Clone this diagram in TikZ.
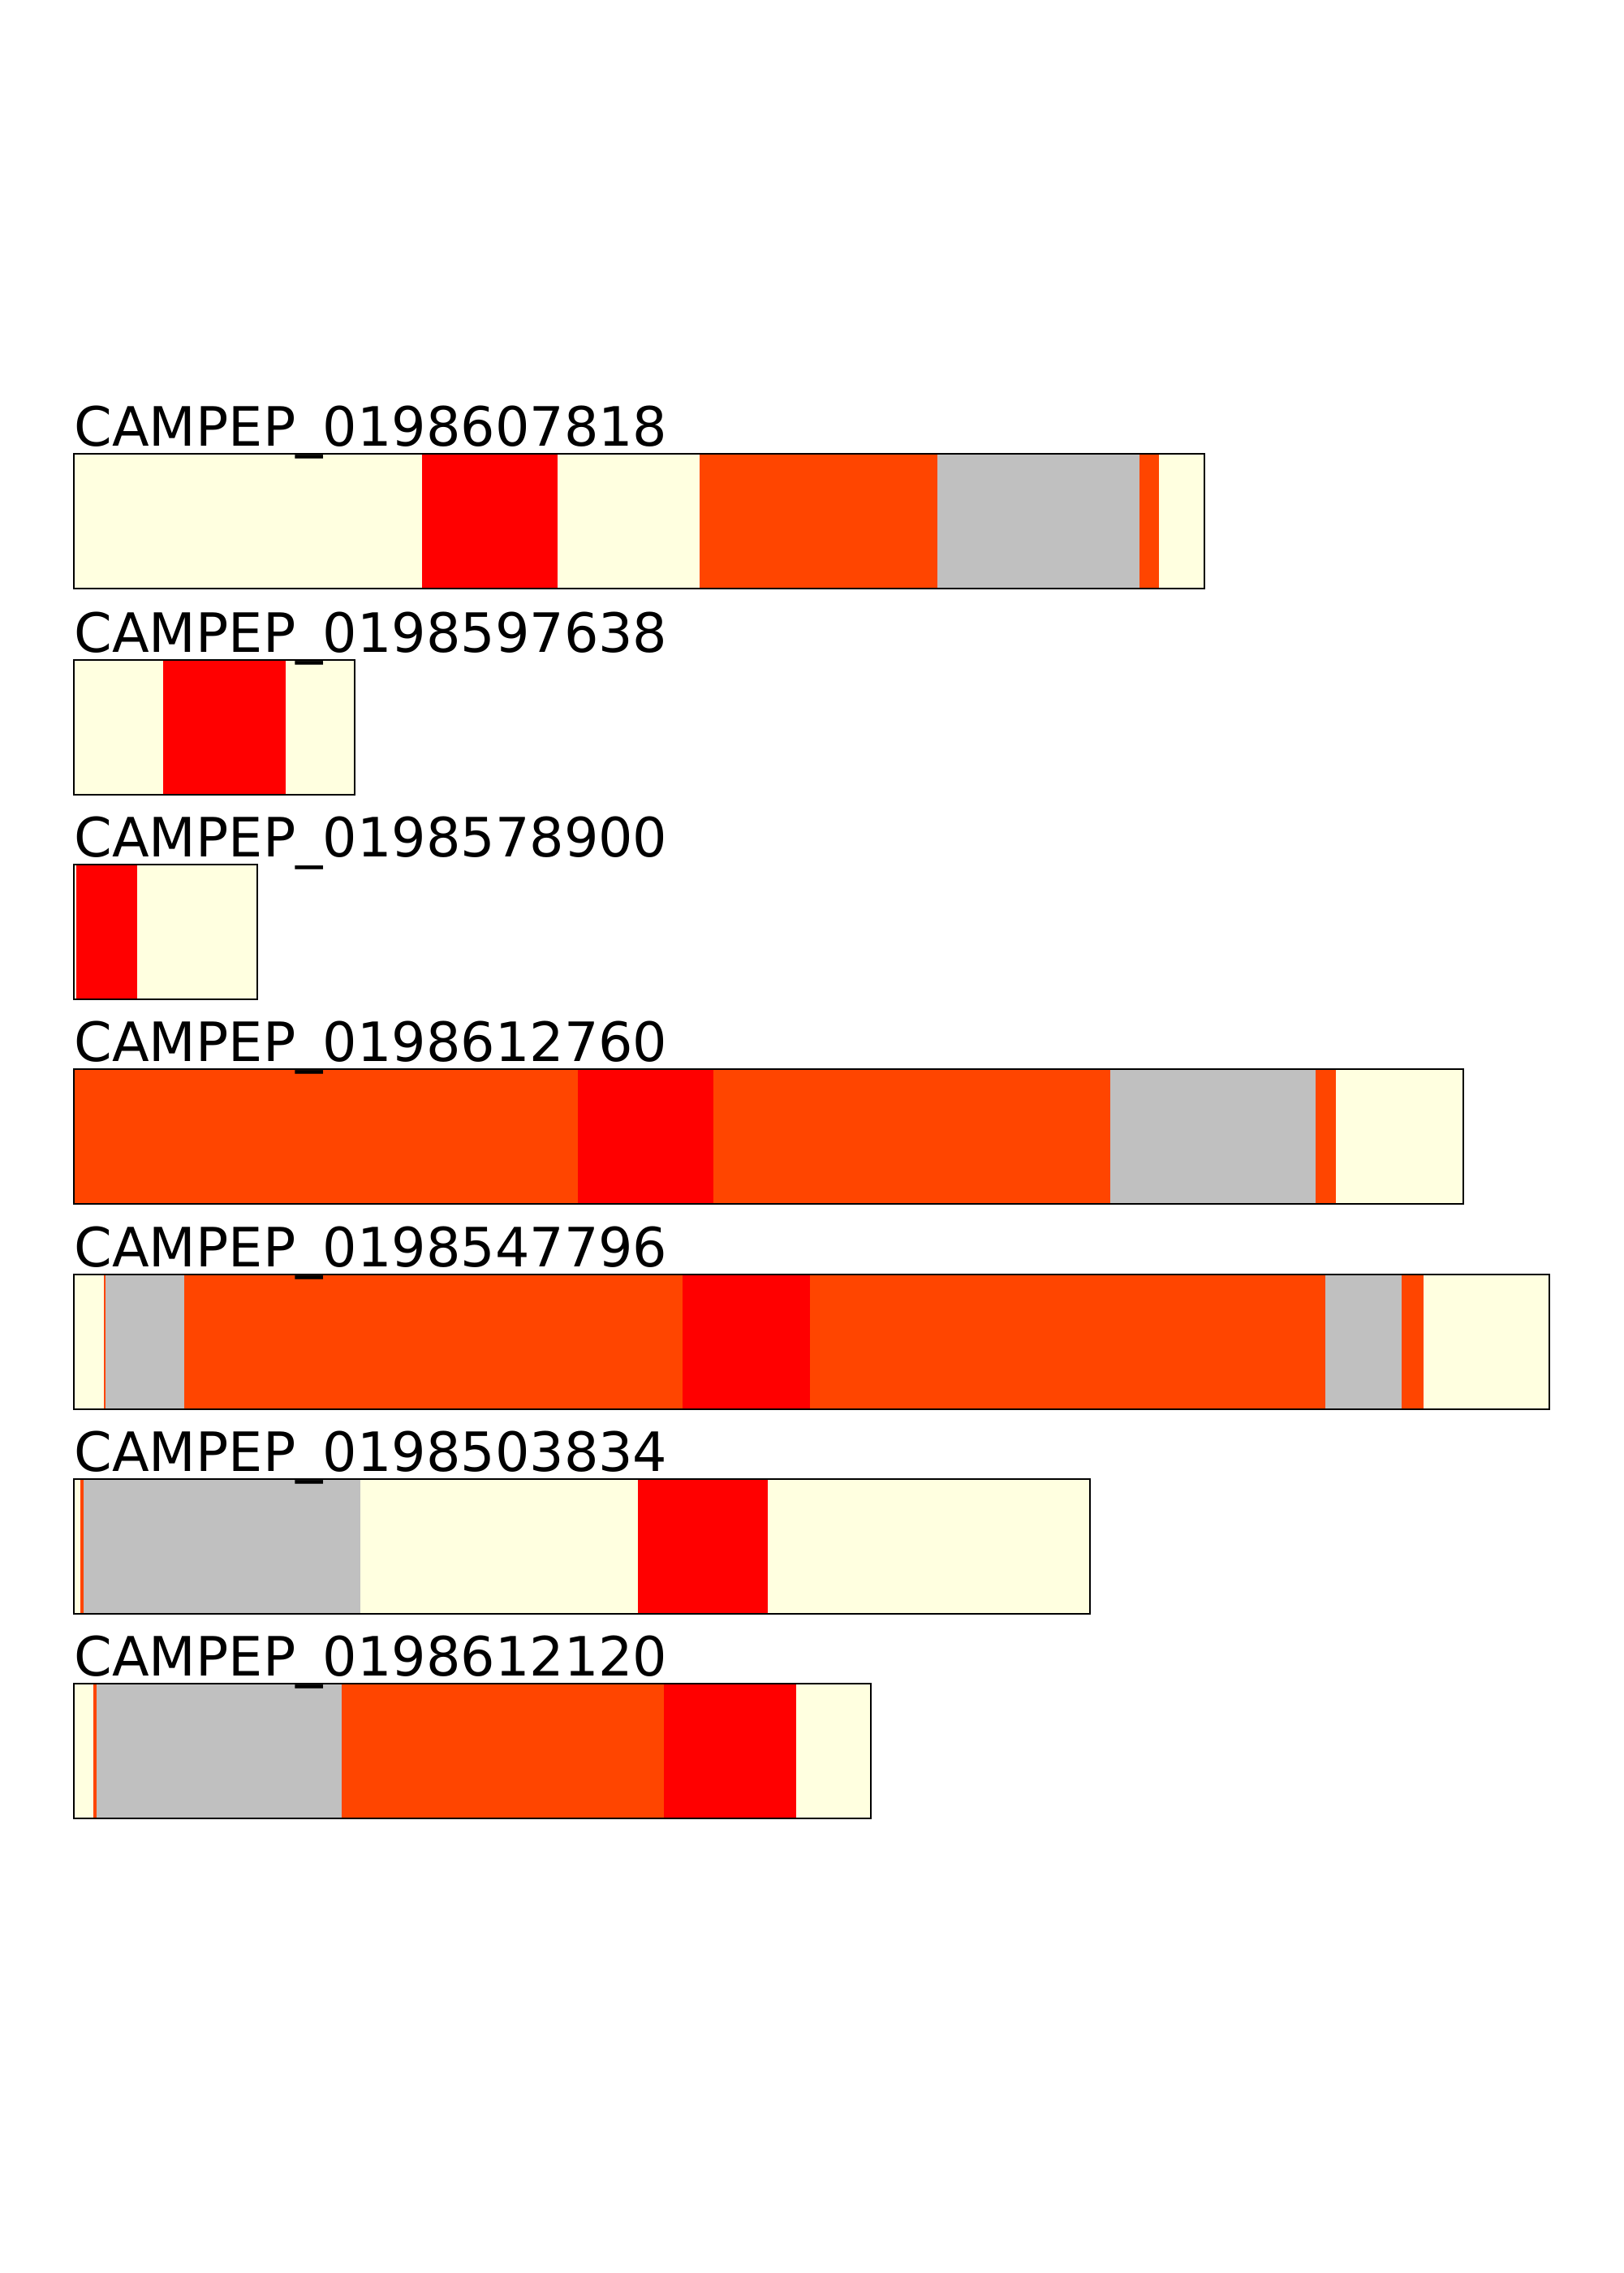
\documentclass[tikz,border=0pt]{standalone}
\usepackage{fontspec}
\setmainfont{DejaVu Sans}
\usepackage{tikz}

\definecolor{cream}{HTML}{FFFFE0}
\definecolor{ored}{HTML}{FF4500}
\definecolor{silver}{HTML}{C0C0C0}

\tikzset{
  frame/.style={draw=black, line width=0.75pt},
  lab/.style={anchor=base west, inner sep=0pt, font=\fontsize{19pt}{22pt}\selectfont}
}

\begin{document}
\begin{tikzpicture}
  \useasboundingbox (0,0) rectangle (20,-28);
  % bar 1
  \foreach \xa/\xb/\col in {0.91/5.20/cream, 5.20/6.87/red, 6.87/8.62/cream, 8.62/11.55/ored,
                            11.55/14.04/silver, 14.04/14.28/ored, 14.28/14.84/cream}
    \fill[\col] (\xa,-5.59) rectangle (\xb,-7.25);
  \draw[frame] (0.91,-5.59) rectangle (14.84,-7.25);
  \node[lab] (p1) at (0.91,-5.49) {CAMPEP\_0198607818};
  % bar 2
  \foreach \xa/\xb/\col in {0.91/2.01/cream, 2.01/3.52/red, 3.52/4.37/cream}
    \fill[\col] (\xa,-8.13) rectangle (\xb,-9.79);
  \draw[frame] (0.91,-8.13) rectangle (4.37,-9.79);
  \node[lab] (p2) at (0.91,-8.03) {CAMPEP\_0198597638};
  % bar 3
  \foreach \xa/\xb/\col in {0.91/0.94/cream, 0.94/1.69/red, 1.69/3.17/cream}
    \fill[\col] (\xa,-10.65) rectangle (\xb,-12.31);
  \draw[frame] (0.91,-10.65) rectangle (3.17,-12.31);
  \node[lab] (p3) at (0.91,-10.55) {CAMPEP\_0198578900};
  % bar 4
  \foreach \xa/\xb/\col in {0.91/7.12/ored, 7.12/8.79/red, 8.79/13.68/ored, 13.68/16.21/silver,
                            16.21/16.46/ored, 16.46/18.03/cream}
    \fill[\col] (\xa,-13.17) rectangle (\xb,-14.83);
  \draw[frame] (0.91,-13.17) rectangle (18.03,-14.83);
  \node[lab] (p4) at (0.91,-13.07) {CAMPEP\_0198612760};
  % bar 5
  \foreach \xa/\xb/\col in {0.91/1.275/cream, 1.275/1.295/ored, 1.295/2.27/silver, 2.27/8.41/ored,
                            8.41/9.98/red, 9.98/16.33/ored, 16.33/17.27/silver, 17.27/17.54/ored,
                            17.54/19.09/cream}
    \fill[\col] (\xa,-15.70) rectangle (\xb,-17.36);
  \draw[frame] (0.91,-15.70) rectangle (19.09,-17.36);
  \node[lab] (p5) at (0.91,-15.60) {CAMPEP\_0198547796};
  % bar 6
  \foreach \xa/\xb/\col in {0.91/0.99/cream, 0.99/1.03/ored, 1.03/4.44/silver, 4.44/7.86/cream,
                            7.86/9.46/red, 9.46/13.43/cream}
    \fill[\col] (\xa,-18.22) rectangle (\xb,-19.88);
  \draw[frame] (0.91,-18.22) rectangle (13.43,-19.88);
  \node[lab] (p6) at (0.91,-18.12) {CAMPEP\_0198503834};
  % bar 7
  \foreach \xa/\xb/\col in {0.91/1.15/cream, 1.15/1.19/ored, 1.19/4.21/silver, 4.21/8.18/ored,
                            8.18/9.81/red, 9.81/10.73/cream}
    \fill[\col] (\xa,-20.74) rectangle (\xb,-22.40);
  \draw[frame] (0.91,-20.74) rectangle (10.73,-22.40);
  \node[lab] (p7) at (0.91,-20.64) {CAMPEP\_0198612120};
\end{tikzpicture}
\end{document}
